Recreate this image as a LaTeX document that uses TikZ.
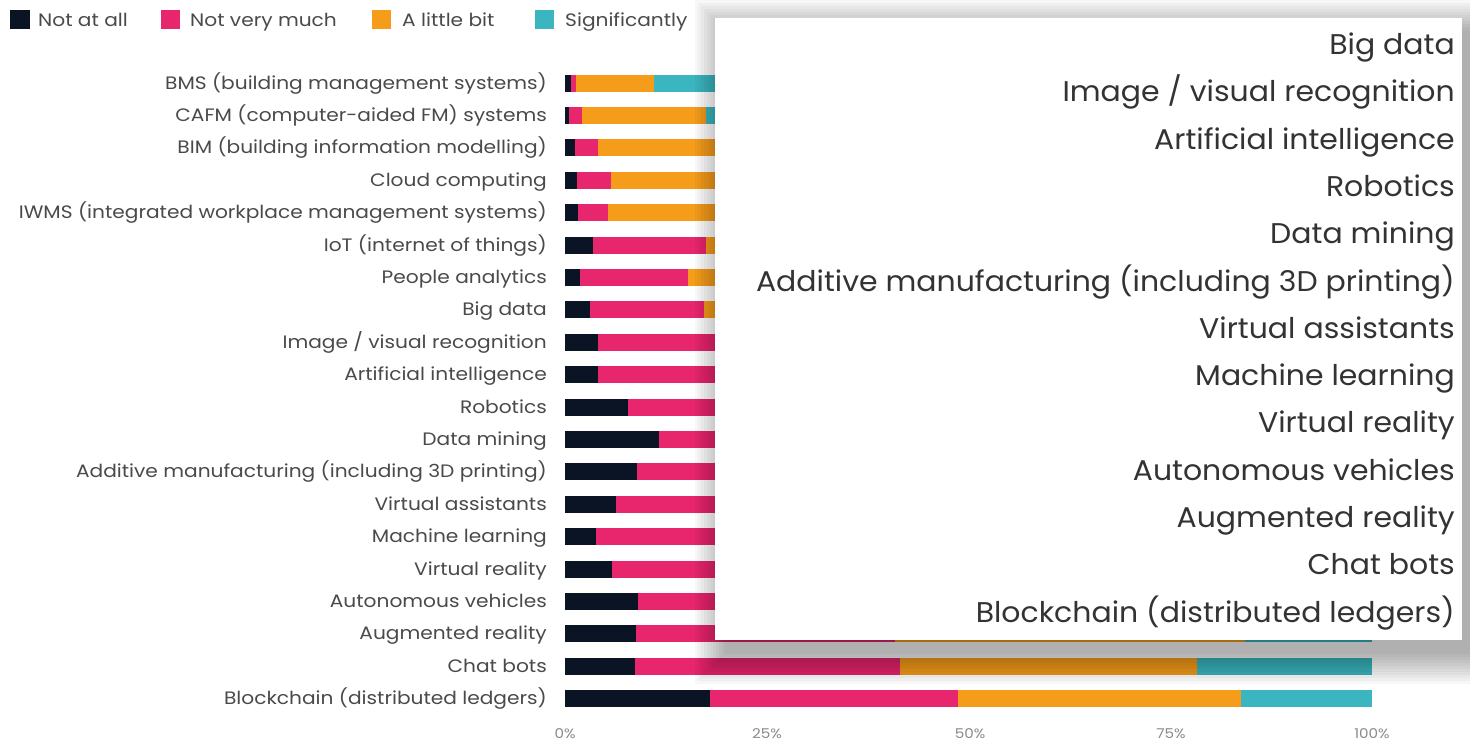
\documentclass[tikz,border=0pt]{standalone}
\usepackage{fontspec}
\setmainfont{Poppins}
\newfontfamily\widefont[FakeStretch=1.12]{Poppins}
\newfontfamily\panelfont[FakeStretch=1.05]{Poppins}
\definecolor{cA}{HTML}{0B1424}
\definecolor{cB}{HTML}{E8266E}
\definecolor{cC}{HTML}{F59C1A}
\definecolor{cD}{HTML}{3BB6C0}
\definecolor{lbl}{HTML}{4A4A4A}
\definecolor{plbl}{HTML}{333333}
\definecolor{tick}{HTML}{8A8A8A}
\tikzset{
  leftlbl/.style={anchor=base east, inner sep=0pt, text=lbl, font=\widefont\fontsize{18}{18}\selectfont},
  panellbl/.style={anchor=base east, inner sep=0pt, text=plbl, font=\panelfont\fontsize{28.5}{28.5}\selectfont},
  ticklbl/.style={anchor=base, inner sep=0pt, text=tick, font=\widefont\fontsize{13.5}{13.5}\selectfont},
  leglbl/.style={anchor=base west, inner sep=0pt, text=lbl, font=\widefont\fontsize{18}{18}\selectfont},
}
\begin{document}
\begin{tikzpicture}[x=1pt,y=-1pt]
\useasboundingbox (0,0) rectangle (1470,747);
\fill[white] (0,0) rectangle (1470,747);
% legend
\fill[cA] (10,10) rectangle (30,29);
\node[leglbl] (l1) at (38,26) {Not at all};
\fill[cB] (161,10) rectangle (180,29);
\node[leglbl] (l2) at (190,26) {Not very much};
\fill[cC] (372,10) rectangle (391,29);
\node[leglbl] (l3) at (402,26) {A little bit};
\fill[cD] (535,10) rectangle (554,29);
\node[leglbl] (l4) at (565,26) {Significantly};
% bars
\foreach \i/\a/\b/\c/\t in {
 0/6/11/89/{BMS (building management systems)},
 1/4/17/141/{CAFM (computer-aided FM) systems},
 2/10/33/400/{BIM (building information modelling)},
 3/12/46/450/{Cloud computing},
 4/13/43/480/{IWMS (integrated workplace management systems)},
 5/28/141/500/{IoT (internet of things)},
 6/15/123/520/{People analytics},
 7/25/139/560/{Big data},
 8/33/300/600/{Image / visual recognition},
 9/33/280/600/{Artificial intelligence},
 10/63/320/650/{Robotics},
 11/94/330/650/{Data mining},
 12/72/330/660/{Additive manufacturing (including 3D printing)},
 13/51/330/660/{Virtual assistants},
 14/31/300/640/{Machine learning},
 15/47/320/670/{Virtual reality},
 16/73/330/680/{Autonomous vehicles},
 17/71/330/680/{Augmented reality},
 18/70/335/632/{Chat bots},
 19/145/393/676/{Blockchain (distributed ledgers)}}{
  \pgfmathsetmacro\yc{83+\i*32.4}
  \fill[cA] (565,\yc-8.5) rectangle (565+\a,\yc+8.5);
  \fill[cB] (565+\a,\yc-8.5) rectangle (565+\b,\yc+8.5);
  \fill[cC] (565+\b,\yc-8.5) rectangle (565+\c,\yc+8.5);
  \fill[cD] (565+\c,\yc-8.5) rectangle (1372,\yc+8.5);
  \node[leftlbl] (r\i) at (547,\yc+6) {\t};
}
% axis ticks
\foreach \p/\x in {0/565,25/767,50/970,75/1171,100/1372}{
  \node[ticklbl] (t\p) at (\x,738) {\p\%};
}
% shadow of overlay panel
\foreach \r in {0,3,...,30}{
  \fill[black,opacity=0.032] (725-\r,30-\r) rectangle (1472+\r,654+\r);
}
% overlay panel
\fill[white] (715,18) rectangle (1462,640);
\foreach \j/\t in {
 0/{Big data},
 1/{Image / visual recognition},
 2/{Artificial intelligence},
 3/{Robotics},
 4/{Data mining},
 5/{Additive manufacturing (including 3D printing)},
 6/{Virtual assistants},
 7/{Machine learning},
 8/{Virtual reality},
 9/{Autonomous vehicles},
 10/{Augmented reality},
 11/{Chat bots},
 12/{Blockchain (distributed ledgers)}}{
  \pgfmathsetmacro\yc{45+\j*47.3}
  \node[panellbl] (p\j) at (1455,\yc+9.5) {\t};
}
\end{tikzpicture}
\end{document}
